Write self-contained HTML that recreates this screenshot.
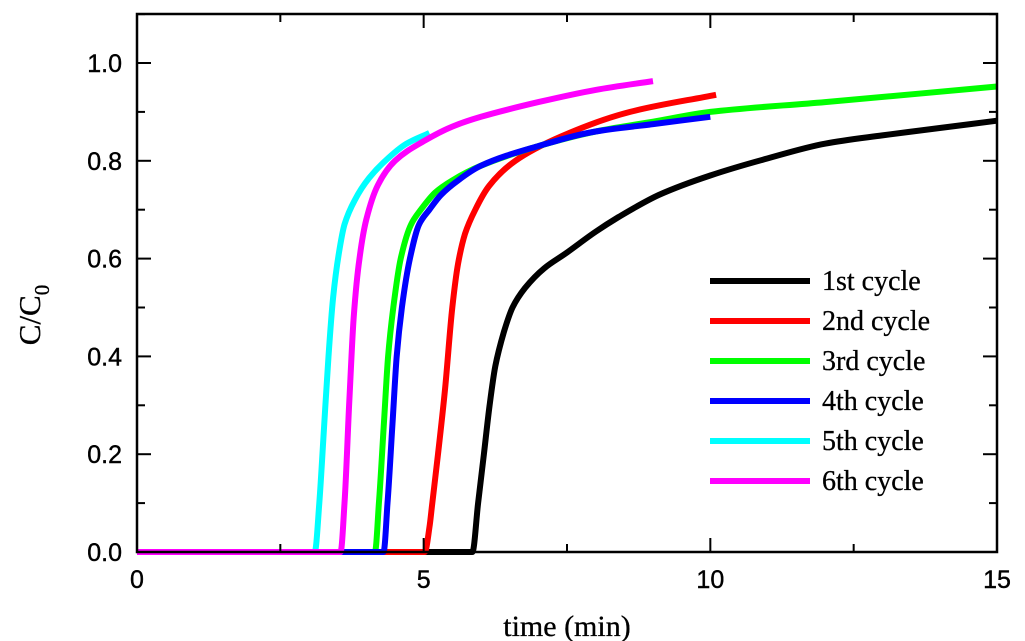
<!DOCTYPE html>
<html><head><meta charset="utf-8">
<style>
html,body{margin:0;padding:0;background:#fff;}
svg{display:block;}
.tick{font-family:"Liberation Sans",Arial,sans-serif;font-size:25px;fill:#000;stroke:#000;stroke-width:0.4;}
.serif{font-family:"Liberation Serif","Times New Roman",serif;fill:#000;stroke:#000;stroke-width:0.3;}
</style></head>
<body>
<svg id="chart" width="1025" height="641" viewBox="0 0 1025 641">
  <g id="marks"></g>
  <g id="axes"></g>
  <g id="legend"></g>
</svg>
<script>
const seriesNames = ["1st cycle","2nd cycle","3rd cycle","4th cycle","5th cycle","6th cycle"];
const seriesColors = ["#000000","#ff0000","#00ff00","#0000ff","#00ffff","#ff00ff"];
const t1 = [0,5.85,5.95,6.05,6.15,6.25,6.4,6.55,6.77,7.1,7.47,8.0,8.4,9.1,10,11,12,13,14,15];
const v1 = [0,0,0.1,0.2,0.3,0.38,0.45,0.5,0.54,0.58,0.61,0.655,0.685,0.73,0.77,0.805,0.835,0.852,0.867,0.882];
const t2 = [0,5.02,5.1,5.15,5.25,5.37,5.5,5.6,5.72,5.9,6.15,6.6,7.4,8.6,10.1];
const v2 = [0,0,0.05,0.1,0.2,0.33,0.5,0.59,0.65,0.7,0.75,0.8,0.85,0.9,0.935];
const t3 = [0,4.15,4.22,4.3,4.38,4.47,4.6,4.78,4.95,5.2,5.5,6,7,8,9,10,12,15];
const v3 = [0,0,0.1,0.25,0.4,0.5,0.6,0.67,0.7,0.735,0.76,0.79,0.83,0.86,0.88,0.9,0.92,0.952];
const t4 = [0,4.3,4.37,4.45,4.53,4.62,4.76,4.92,5.1,5.3,5.6,6,7,8,9,10];
const v4 = [0,0,0.1,0.25,0.4,0.5,0.6,0.67,0.7,0.73,0.76,0.79,0.83,0.86,0.875,0.89];
const t5 = [2.9,3.1,3.18,3.26,3.34,3.42,3.52,3.62,3.8,4.05,4.33,4.7,5.1];
const v5 = [0,0,0.1,0.25,0.4,0.52,0.61,0.67,0.72,0.765,0.8,0.835,0.857];
const t6 = [0,3.55,3.62,3.7,3.78,3.88,4.0,4.2,4.5,5,5.5,6,7,8,9];
const v6 = [0,0,0.1,0.3,0.48,0.6,0.68,0.75,0.8,0.84,0.87,0.89,0.92,0.945,0.963];
const xTicks = [0,5,10,15];
const yTicks = [0,0.2,0.4,0.6,0.8,1.0];
const yTickLabels = ["0.0","0.2","0.4","0.6","0.8","1.0"];

const NS="http://www.w3.org/2000/svg";
const X0=137,X1=997,Y0=552,YT=14;
const xs=t=>X0+t*(X1-X0)/15;
const ys=v=>Y0-v*489;
function mk(tag,attrs,parent){const e=document.createElementNS(NS,tag);for(const k in attrs)e.setAttribute(k,attrs[k]);parent.appendChild(e);return e;}
function monoPath(px,py){
  const n=px.length,dx=[],m=[],tg=[];
  for(let i=0;i<n-1;i++){dx[i]=px[i+1]-px[i];m[i]=(py[i+1]-py[i])/dx[i];}
  tg[0]=m[0];tg[n-1]=m[n-2];
  for(let i=1;i<n-1;i++){
    if(m[i-1]*m[i]<=0)tg[i]=0;
    else{const w1=2*dx[i]+dx[i-1],w2=dx[i]+2*dx[i-1];tg[i]=(w1+w2)/(w1/m[i-1]+w2/m[i]);}
  }
  let d='M'+px[0].toFixed(1)+','+py[0].toFixed(1);
  for(let i=0;i<n-1;i++){
    const h=dx[i]/3;
    d+=' C'+(px[i]+h).toFixed(1)+','+(py[i]+tg[i]*h).toFixed(1)+' '+(px[i+1]-h).toFixed(1)+','+(py[i+1]-tg[i+1]*h).toFixed(1)+' '+px[i+1].toFixed(1)+','+py[i+1].toFixed(1);
  }
  return d;
}
const marks=document.getElementById('marks');
const allT=[t1,t2,t3,t4,t5,t6],allV=[v1,v2,v3,v4,v5,v6];
for(let s=0;s<6;s++){
  const d=monoPath(allT[s].map(xs),allV[s].map(ys));
  const p=mk('path',{d:d,fill:'none',stroke:seriesColors[s],'stroke-width':6,'stroke-linejoin':'round'},marks);
  
  
}
const axes=document.getElementById('axes');
const frame=mk('rect',{x:X0,y:YT,width:X1-X0,height:Y0-YT,fill:'none',stroke:'#000','stroke-width':2.5},axes);


for(let i=0;i<=6;i++){const t=i*2.5;const maj=i%2==0;
  mk('line',{x1:xs(t),x2:xs(t),y1:Y0,y2:Y0-(maj?14:8),stroke:'#000','stroke-width':2},axes);
  mk('line',{x1:xs(t),x2:xs(t),y1:YT,y2:YT+(maj?14:8),stroke:'#000','stroke-width':2},axes);}
xTicks.forEach(t=>{const e=mk('text',{x:xs(t),y:588,'text-anchor':'middle',class:'tick'},axes);e.textContent=t;
  
  });
for(let i=0;i<=11;i++){const v=i*0.1;const maj=i%2==0;
  mk('line',{x1:X0,x2:X0+(maj?14:8),y1:ys(v),y2:ys(v),stroke:'#000','stroke-width':2},axes);
  mk('line',{x1:X1,x2:X1-(maj?14:8),y1:ys(v),y2:ys(v),stroke:'#000','stroke-width':2},axes);}
yTicks.forEach((v,i)=>{const e=mk('text',{x:122,y:ys(v)+9,'text-anchor':'end',class:'tick'},axes);e.textContent=yTickLabels[i];
  
  });
const xt=mk('text',{x:567,y:636,'text-anchor':'middle',class:'serif','font-size':30},axes);xt.textContent='time (min)';


const yt=mk('text',{transform:'translate(40,315) rotate(-90)','text-anchor':'middle',class:'serif','font-size':31},axes);
yt.innerHTML='C/C<tspan dy="9" font-size="21">0</tspan>';


const lg=document.getElementById('legend');
seriesNames.forEach((n,i)=>{const y=281+i*40;
  const g=mk('g',{},lg);
  
  
  mk('line',{x1:710,x2:810,y1:y,y2:y,stroke:seriesColors[i],'stroke-width':6},g);
  const t=mk('text',{x:822,y:y+9,class:'serif','font-size':28},g);t.textContent=n;});
</script>
</body></html>
